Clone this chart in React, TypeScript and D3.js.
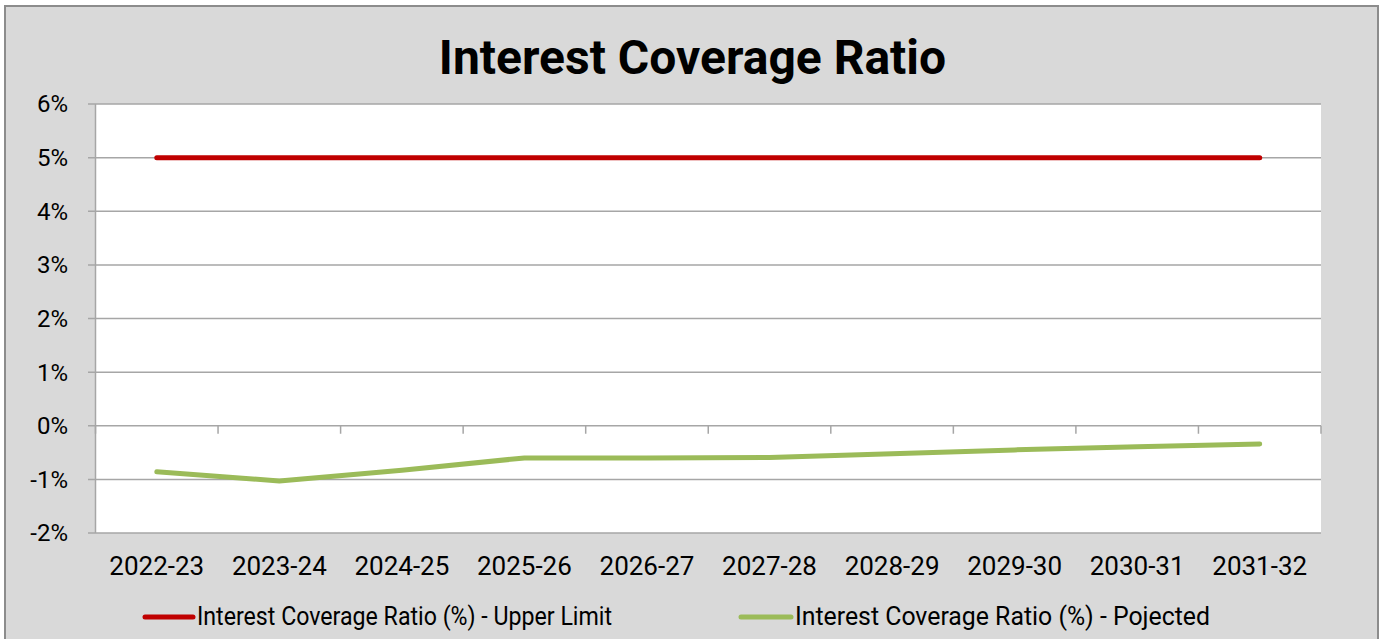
import React from "react";
import * as d3 from "d3";

const categories = ["2022-23", "2023-24", "2024-25", "2025-26", "2026-27", "2027-28", "2028-29", "2029-30", "2030-31", "2031-32"];
const upperLimit = [5, 5, 5, 5, 5, 5, 5, 5, 5, 5];
const projected = [-0.86, -1.03, -0.83, -0.6, -0.6, -0.59, -0.52, -0.45, -0.39, -0.34];
const yTicks = [-2, -1, 0, 1, 2, 3, 4, 5, 6];
const title = "Interest Coverage Ratio";
const seriesNames = ["Interest Coverage Ratio (%) - Upper Limit", "Interest Coverage Ratio (%) - Pojected"];
const seriesColors = ["#c00000", "#9bbb59"];

const W = 1387;
const H = 639;
const plot = { left: 95.5, right: 1321, top: 104, bottom: 533 };

export default function App() {
  const x = d3.scaleBand<string>().domain(categories).range([plot.left, plot.right]).padding(0);
  const y = d3.scaleLinear().domain([-2, 6]).range([plot.bottom, plot.top]);
  const cx = (c: string) => (x(c) as number) + x.bandwidth() / 2;
  const line = d3
    .line<number>()
    .x((_, i) => cx(categories[i]))
    .y((d) => y(d));
  const font = "Roboto, 'Noto Sans', sans-serif";
  const grid = "#a6a6a6";
  const boundaries = categories.map((c) => x(c) as number).concat([plot.right]);

  return (
    <svg width={W} height={H} style={{ position: "absolute", left: 0, top: 0 }} fontFamily={font}>
      <rect x={0} y={0} width={W} height={H} fill="#ffffff" />
      <rect x={5} y={6} width={1373} height={H + 10} fill="#d9d9d9" stroke="#8c8c8c" strokeWidth={2} />
      <text x={692.5} y={74} textAnchor="middle" fontSize={48} fontWeight={700} fill="#000">
        {title}
      </text>
      <rect x={plot.left} y={plot.top} width={plot.right - plot.left} height={plot.bottom - plot.top} fill="#ffffff" />
      {yTicks.map((t) => (
        <g key={t}>
          <line x1={88} x2={plot.right} y1={y(t)} y2={y(t)} stroke={grid} strokeWidth={1.5} />
          <text x={68} y={y(t)} dy="0.35em" textAnchor="end" fontSize={24} fill="#000">
            {`${t}%`}
          </text>
        </g>
      ))}
      <line x1={plot.left} x2={plot.left} y1={plot.top} y2={plot.bottom} stroke={grid} strokeWidth={1.5} />
      {boundaries.map((b, i) => (
        <line key={i} x1={b} x2={b} y1={y(0)} y2={y(0) + 8} stroke={grid} strokeWidth={1.5} />
      ))}
      {categories.map((c) => (
        <text key={c} x={cx(c)} y={575} textAnchor="middle" fontSize={26} fill="#000">
          {c}
        </text>
      ))}
      {[upperLimit, projected].map((s, i) => (
        <path
          key={i}
          d={line(s) as string}
          fill="none"
          stroke={seriesColors[i]}
          strokeWidth={5}
          strokeLinecap="round"
          strokeLinejoin="round"
        />
      ))}
      {[
        { lx1: 145, lx2: 193, tx: 197 },
        { lx1: 741, lx2: 791, tx: 795 },
      ].map((p, i) => (
        <g key={i}>
          <line x1={p.lx1} x2={p.lx2} y1={617} y2={617} stroke={seriesColors[i]} strokeWidth={5} strokeLinecap="round" />
          <text x={p.tx} y={625} fontSize={25} fill="#000" textLength={415} lengthAdjust="spacingAndGlyphs">
            {seriesNames[i]}
          </text>
        </g>
      ))}
    </svg>
  );
}
